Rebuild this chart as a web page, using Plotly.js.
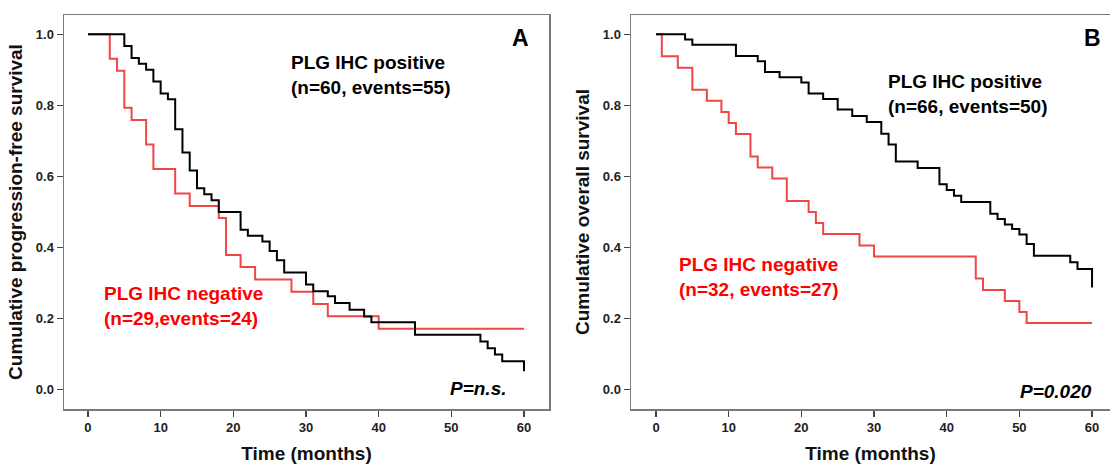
<!DOCTYPE html>
<html>
<head>
<meta charset="utf-8">
<script src="https://cdn.plot.ly/plotly-3.0.1.min.js"></script>
<style>html,body{margin:0;padding:0;background:#fff;}#chart{width:1110px;height:464px;}</style>
</head>
<body>
<div id="chart"></div>
<script>
// Panel A: progression-free survival
const pfsPosTime = [0,5,6,7,8,9,10,11,12,13,14,15,16,17,18,21,22,24,25,26,27,30,31,33,34,36,38,39,45,54,55,56,57,60];
const pfsPosSurv = [1,0.967,0.933,0.917,0.9,0.867,0.833,0.817,0.733,0.667,0.617,0.567,0.55,0.533,0.5,0.45,0.433,0.417,0.39,0.364,0.33,0.296,0.277,0.263,0.244,0.225,0.206,0.19,0.155,0.136,0.117,0.099,0.08,0.052];
const pfsNegTime = [0,3,4,5,6,8,9,12,14,18,19,21,23,28,31,33,40,60];
const pfsNegSurv = [1,0.931,0.897,0.793,0.759,0.690,0.621,0.552,0.517,0.483,0.379,0.345,0.310,0.276,0.241,0.207,0.172,0.172];
// Panel B: overall survival
const osPosTime = [0,4,5,11,14,15,17,20,21,23,25,27,29,31,32,33,36,39,40,41,42,46,47,48,49,50,51,52,57,58,60];
const osPosSurv = [1,0.985,0.970,0.939,0.924,0.894,0.879,0.864,0.833,0.818,0.788,0.770,0.753,0.72,0.69,0.642,0.624,0.578,0.562,0.546,0.528,0.495,0.48,0.465,0.452,0.437,0.41,0.377,0.359,0.34,0.288];
const osNegTime = [0,0.8,3,5,7,9,10,11,13,14,16,18,21,22,23,28,30,44,45,48,50,51,60];
const osNegSurv = [1,0.938,0.906,0.844,0.813,0.781,0.75,0.719,0.656,0.625,0.594,0.531,0.5,0.469,0.438,0.406,0.375,0.313,0.281,0.25,0.219,0.188,0.188];

const xTicks = [0,10,20,30,40,50,60];
const yTicks = [0,0.2,0.4,0.6,0.8,1.0];
const yTickText = ['0.0','0.2','0.4','0.6','0.8','1.0'];

const W = 1110, H = 464;
const px = v => v / W;
const py = v => 1 - v / H;
const FONT = 'Arial, "Liberation Sans", sans-serif';
const BLACK = '#000000';
const RED = '#f04646';

function line(x, y, color, xa, ya) {
  return {x: x, y: y, type: 'scatter', mode: 'lines', line: {shape: 'hv', color: color, width: 2},
          xaxis: xa, yaxis: ya, hoverinfo: 'skip', showlegend: false};
}

const traces = [
  line(pfsNegTime, pfsNegSurv, RED, 'x', 'y'),
  line(pfsPosTime, pfsPosSurv, BLACK, 'x', 'y'),
  line(osNegTime, osNegSurv, RED, 'x2', 'y2'),
  line(osPosTime, osPosSurv, BLACK, 'x2', 'y2')
];

const tickFont = {family: FONT, size: 13, color: '#222', weight: 'bold'};
const titleFont = {family: FONT, size: 19, color: '#111', weight: 'bold'};

function xaxis(domain, range, anchor, mirror) {
  return {domain: domain, range: range, anchor: anchor, tickvals: xTicks, ticktext: xTicks.map(String),
    ticks: 'outside', ticklen: 6, tickwidth: 1.2, tickcolor: '#444', tickfont: tickFont,
    showline: true, linecolor: '#7a7a7a', linewidth: 1.5, mirror: mirror, showgrid: false, zeroline: false,
    title: {text: 'Time (months)', font: titleFont, standoff: 14}};
}
function yaxis(domain, anchor, title, mirror) {
  return {domain: domain, range: [-0.054, 1.054], anchor: anchor, tickvals: yTicks, ticktext: yTickText,
    ticks: 'outside', ticklen: 6, tickwidth: 1.2, tickcolor: '#444', tickfont: tickFont,
    showline: true, linecolor: '#7a7a7a', linewidth: 1.5, mirror: mirror, showgrid: false, zeroline: false,
    title: {text: title, font: titleFont, standoff: 8}};
}

const yDom = [py(409), py(15)];
const layout = {
  width: W, height: H, margin: {l: 0, r: 0, t: 0, b: 0}, paper_bgcolor: '#fff', plot_bgcolor: '#fff',
  showlegend: false,
  xaxis: xaxis([px(64), px(549)], [-3.30, 63.44], 'y', true),
  yaxis: yaxis(yDom, 'x', 'Cumulative progression-free survival', true),
  xaxis2: xaxis([px(631), 1], [-3.44, 62.47], 'y2', true),
  yaxis2: yaxis(yDom, 'x2', 'Cumulative overall survival', false),
  annotations: [
    {xref: 'paper', yref: 'paper', x: px(520), y: py(38), text: 'A', showarrow: false, xanchor: 'center', yanchor: 'middle',
     font: {family: FONT, size: 23, color: '#000', weight: 'bold'}},
    {xref: 'paper', yref: 'paper', x: px(1092), y: py(38), text: 'B', showarrow: false, xanchor: 'center', yanchor: 'middle',
     font: {family: FONT, size: 23, color: '#000', weight: 'bold'}},
    {xref: 'paper', yref: 'paper', x: px(289), y: py(75), text: 'PLG IHC positive<br>(n=60, events=55)', showarrow: false,
     xanchor: 'left', yanchor: 'middle', align: 'left', font: {family: FONT, size: 19, color: '#000', weight: 'bold'}},
    {xref: 'paper', yref: 'paper', x: px(102), y: py(306), text: 'PLG IHC negative<br>(n=29,events=24)', showarrow: false,
     xanchor: 'left', yanchor: 'middle', align: 'left', font: {family: FONT, size: 19, color: '#ff0000', weight: 'bold'}},
    {xref: 'paper', yref: 'paper', x: px(886), y: py(94), text: 'PLG IHC positive<br>(n=66, events=50)', showarrow: false,
     xanchor: 'left', yanchor: 'middle', align: 'left', font: {family: FONT, size: 19, color: '#000', weight: 'bold'}},
    {xref: 'paper', yref: 'paper', x: px(677), y: py(277), text: 'PLG IHC negative<br>(n=32, events=27)', showarrow: false,
     xanchor: 'left', yanchor: 'middle', align: 'left', font: {family: FONT, size: 19, color: '#ff0000', weight: 'bold'}},
    {xref: 'paper', yref: 'paper', x: px(509), y: py(388), text: 'P=n.s.', showarrow: false,
     xanchor: 'right', yanchor: 'middle', font: {family: FONT, size: 19, color: '#000', weight: 'bold', style: 'italic'}},
    {xref: 'paper', yref: 'paper', x: px(1094), y: py(391), text: 'P=0.020', showarrow: false,
     xanchor: 'right', yanchor: 'middle', font: {family: FONT, size: 19, color: '#000', weight: 'bold', style: 'italic'}}
  ]
};

Plotly.newPlot('chart', traces, layout, {staticPlot: true, displayModeBar: false});
</script>
</body>
</html>
